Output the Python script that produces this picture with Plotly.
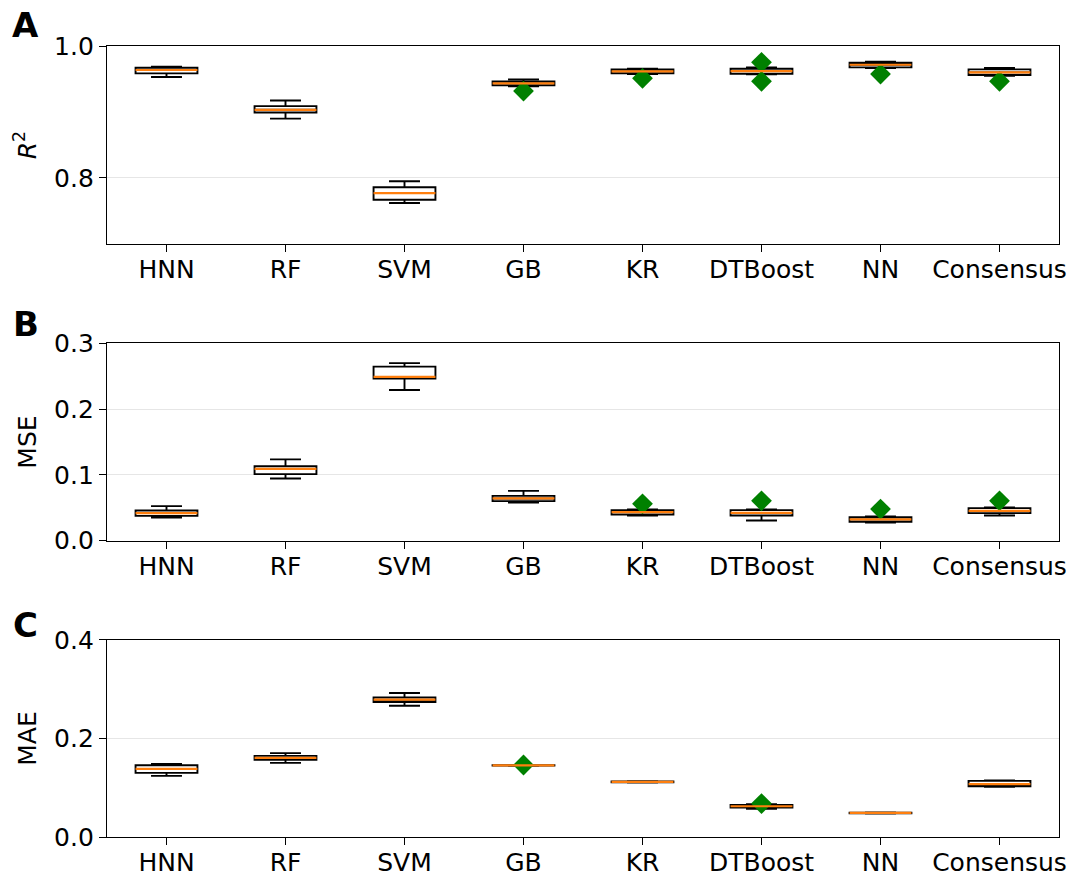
import plotly.graph_objects as go
from plotly.subplots import make_subplots

categories = ["HNN", "RF", "SVM", "GB", "KR", "DTBoost", "NN", "Consensus"]
positions = [1, 2, 3, 4, 5, 6, 7, 8]

# Panel A: R^2
r2_lower = [0.953, 0.890, 0.762, 0.939, 0.9575, 0.957, 0.9666, 0.955]
r2_q1 = [0.9585, 0.8993, 0.767, 0.9403, 0.9585, 0.958, 0.9676, 0.956]
r2_med = [0.9636, 0.9033, 0.7772, 0.9433, 0.9616, 0.962, 0.9716, 0.960]
r2_q3 = [0.967, 0.9089, 0.786, 0.9464, 0.9646, 0.9655, 0.9747, 0.9646]
r2_upper = [0.9686, 0.9175, 0.795, 0.9494, 0.9655, 0.9676, 0.9762, 0.9666]
r2_out_cat = ["GB", "KR", "DTBoost", "DTBoost", "NN", "Consensus"]
r2_out_val = [0.9317, 0.951, 0.9752, 0.9464, 0.9575, 0.9464]

# Panel B: MSE
mse_lower = [0.0353, 0.0946, 0.229, 0.0581, 0.0384, 0.0307, 0.0277, 0.0384]
mse_q1 = [0.0378, 0.1012, 0.2463, 0.0601, 0.0399, 0.0384, 0.0286, 0.0419]
mse_med = [0.0419, 0.1093, 0.2489, 0.0642, 0.0434, 0.0423, 0.0323, 0.0454]
mse_q3 = [0.046, 0.1134, 0.2646, 0.0682, 0.0464, 0.0464, 0.0358, 0.0495]
mse_upper = [0.0525, 0.1236, 0.270, 0.0758, 0.0475, 0.0475, 0.0368, 0.0505]
mse_out_cat = ["KR", "DTBoost", "NN", "Consensus"]
mse_out_val = [0.056, 0.0606, 0.048, 0.0606]

# Panel C: MAE
mae_lower = [0.124, 0.1505, 0.2664, 0.1445, 0.1105, 0.057, 0.0478, 0.1017]
mae_q1 = [0.1302, 0.1566, 0.274, 0.1448, 0.1109, 0.0600, 0.0482, 0.1031]
mae_med = [0.1383, 0.1607, 0.2787, 0.1452, 0.1119, 0.0624, 0.0488, 0.1072]
mae_q3 = [0.1458, 0.1647, 0.2835, 0.1456, 0.1127, 0.0650, 0.0493, 0.1139]
mae_upper = [0.1485, 0.1702, 0.2923, 0.1459, 0.1133, 0.0665, 0.0497, 0.1146]
mae_out_cat = ["GB", "DTBoost"]
mae_out_val = [0.1462, 0.0679]

panels = [
    dict(lower=r2_lower, q1=r2_q1, med=r2_med, q3=r2_q3, upper=r2_upper,
         oc=r2_out_cat, ov=r2_out_val, title="<i>R</i><sup>2</sup>",
         yrange=[0.7, 1.0], tickvals=[0.8, 1.0], ticktext=["0.8", "1.0"], letter="A"),
    dict(lower=mse_lower, q1=mse_q1, med=mse_med, q3=mse_q3, upper=mse_upper,
         oc=mse_out_cat, ov=mse_out_val, title="MSE",
         yrange=[0.0, 0.3], tickvals=[0.0, 0.1, 0.2, 0.3], ticktext=["0.0", "0.1", "0.2", "0.3"], letter="B"),
    dict(lower=mae_lower, q1=mae_q1, med=mae_med, q3=mae_q3, upper=mae_upper,
         oc=mae_out_cat, ov=mae_out_val, title="MAE",
         yrange=[0.0, 0.4], tickvals=[0.0, 0.2, 0.4], ticktext=["0.0", "0.2", "0.4"], letter="C"),
]

FONT = "DejaVu Sans"
BOX_W = 0.52
MED_COLOR = "#ff7f0e"
OUT_COLOR = "#008000"

fig = make_subplots(rows=3, cols=1)

domains = [[0.7497, 1.0], [0.3746, 0.6241], [0.0, 0.2491]]
letter_y = [1.026, 0.6485, 0.2674]

for i, p in enumerate(panels):
    row = i + 1
    fig.add_trace(go.Box(
        x=positions, q1=p["q1"], median=p["med"], q3=p["q3"],
        lowerfence=p["lower"], upperfence=p["upper"],
        width=BOX_W, whiskerwidth=0.5, boxpoints=False,
        fillcolor="rgba(0,0,0,0)", line=dict(color="black", width=1.9),
        showlegend=False, hoverinfo="skip"), row=row, col=1)
    ox = [positions[categories.index(c)] for c in p["oc"]]
    fig.add_trace(go.Scatter(
        x=ox, y=p["ov"], mode="markers",
        marker=dict(symbol="diamond", color=OUT_COLOR, size=16, line=dict(width=0)),
        showlegend=False), row=row, col=1)
    mx, my = [], []
    for pos, m in zip(positions, p["med"]):
        mx += [pos - BOX_W / 2, pos + BOX_W / 2, None]
        my += [m, m, None]
    fig.add_trace(go.Scatter(
        x=mx, y=my, mode="lines", line=dict(color=MED_COLOR, width=2.2),
        showlegend=False), row=row, col=1)

    xa = "xaxis" if i == 0 else f"xaxis{row}"
    ya = "yaxis" if i == 0 else f"yaxis{row}"
    fig.layout[xa].update(
        domain=[0, 1], range=[0.5, 8.5], tickmode="array", tickvals=positions,
        ticktext=categories, showgrid=False, zeroline=False, automargin=False,
        showline=True, linecolor="black", linewidth=1.3, mirror=True,
        ticks="outside", ticklen=7, tickwidth=1.3, tickcolor="black",
        ticklabelstandoff=-4,
        tickfont=dict(family=FONT, size=25, color="black"))
    fig.layout[ya].update(
        domain=domains[i], range=p["yrange"], tickmode="array",
        tickvals=p["tickvals"], ticktext=p["ticktext"], automargin=False,
        showgrid=True, gridcolor="#e6e6e6", gridwidth=1, zeroline=False,
        showline=True, linecolor="black", linewidth=1.3, mirror=True,
        ticks="outside", ticklen=7, tickwidth=1.3, tickcolor="black",
        tickfont=dict(family=FONT, size=25, color="black"),
        title=dict(text=p["title"], standoff=10, font=dict(family=FONT, size=25, color="black")))
    fig.add_annotation(
        text=f"<b>{p['letter']}</b>", xref="paper", yref="paper",
        x=-0.0856, y=letter_y[i], xanchor="center", yanchor="middle",
        showarrow=False, font=dict(family=FONT, size=34, color="black"))

fig.update_layout(
    width=1073, height=874,
    margin=dict(l=107, r=14, t=46, b=37),
    paper_bgcolor="white", plot_bgcolor="white",
    font=dict(family=FONT, color="black"),
)

fig.write_html("out.html", config={"displayModeBar": False},
               post_script="document.body.style.margin='0px';")
